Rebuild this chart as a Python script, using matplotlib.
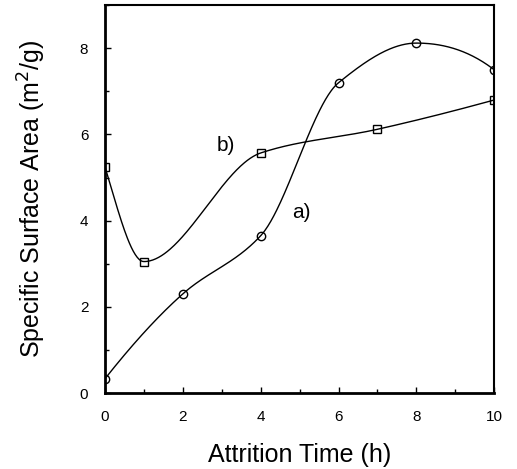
import numpy as np
import matplotlib
matplotlib.use("Agg")
import matplotlib.pyplot as plt
from matplotlib.ticker import MultipleLocator

plt.rcParams['font.family'] = ['Liberation Sans', 'DejaVu Sans']

# series a) circles
time_a = [0, 2, 4, 6, 8, 10]
area_a = [0.33, 2.3, 3.65, 7.2, 8.12, 7.5]
# series b) squares
time_b = [0, 1, 4, 7, 10]
area_b = [5.25, 3.05, 5.57, 6.12, 6.8]


def smooth_line(x, y, n=400):
    # shape-preserving cubic (pchip) just for drawing the curve through the points
    x = np.asarray(x, float)
    y = np.asarray(y, float)
    h = np.diff(x)
    delta = np.diff(y) / h
    k = len(x)
    d = np.zeros(k)
    for i in range(1, k - 1):
        if delta[i - 1] * delta[i] > 0:
            w1 = 2 * h[i] + h[i - 1]
            w2 = h[i] + 2 * h[i - 1]
            d[i] = (w1 + w2) / (w1 / delta[i - 1] + w2 / delta[i])
    def end(h0, h1, d0, d1):
        s = ((2 * h0 + h1) * d0 - h0 * d1) / (h0 + h1)
        if np.sign(s) != np.sign(d0):
            s = 0
        elif np.sign(d0) != np.sign(d1) and abs(s) > abs(3 * d0):
            s = 3 * d0
        return s
    d[0] = end(h[0], h[1], delta[0], delta[1])
    d[-1] = end(h[-1], h[-2], delta[-1], delta[-2])
    xs = np.linspace(x[0], x[-1], n)
    idx = np.clip(np.searchsorted(x, xs) - 1, 0, k - 2)
    t = (xs - x[idx]) / h[idx]
    h00 = 2 * t**3 - 3 * t**2 + 1
    h10 = t**3 - 2 * t**2 + t
    h01 = -2 * t**3 + 3 * t**2
    h11 = t**3 - t**2
    ys = h00 * y[idx] + h10 * h[idx] * d[idx] + h01 * y[idx + 1] + h11 * h[idx] * d[idx + 1]
    return xs, ys


fig = plt.figure(figsize=(5.17, 4.69), dpi=100)
ax = fig.add_axes([0.203, 0.162, 0.753, 0.827])

xs, ys = smooth_line(time_a, area_a)
ax.plot(xs, ys, color='black', lw=1.0)
ax.plot(time_a, area_a, 'o', ms=6, mfc='none', mec='black', mew=1.0)

xs, ys = smooth_line(time_b, area_b)
ax.plot(xs, ys, color='black', lw=1.0)
ax.plot(time_b, area_b, 's', ms=6, mfc='none', mec='black', mew=1.0)

ax.text(3.1, 5.75, 'b)', fontsize=15, ha='center', va='center')
ax.text(5.05, 4.2, 'a)', fontsize=15, ha='center', va='center')

ax.set_xlim(0, 10)
ax.set_ylim(0, 9)
ax.xaxis.set_major_locator(MultipleLocator(2))
ax.xaxis.set_minor_locator(MultipleLocator(1))
ax.yaxis.set_major_locator(MultipleLocator(2))
ax.yaxis.set_minor_locator(MultipleLocator(1))
ax.tick_params(which='both', direction='in', labelsize=11, pad=12)
ax.tick_params(which='major', length=4, width=1)
ax.tick_params(which='minor', length=3, width=1)

for s in ax.spines.values():
    s.set_linewidth(1.5)
ax.spines['left'].set_linewidth(2)
ax.spines['bottom'].set_linewidth(2)

ax.set_xlabel('Attrition Time (h)', fontsize=18, labelpad=14)
ax.set_ylabel('Specific Surface Area (m$^2$/g)', fontsize=18, labelpad=23)

fig.savefig('out.png', dpi=100)
